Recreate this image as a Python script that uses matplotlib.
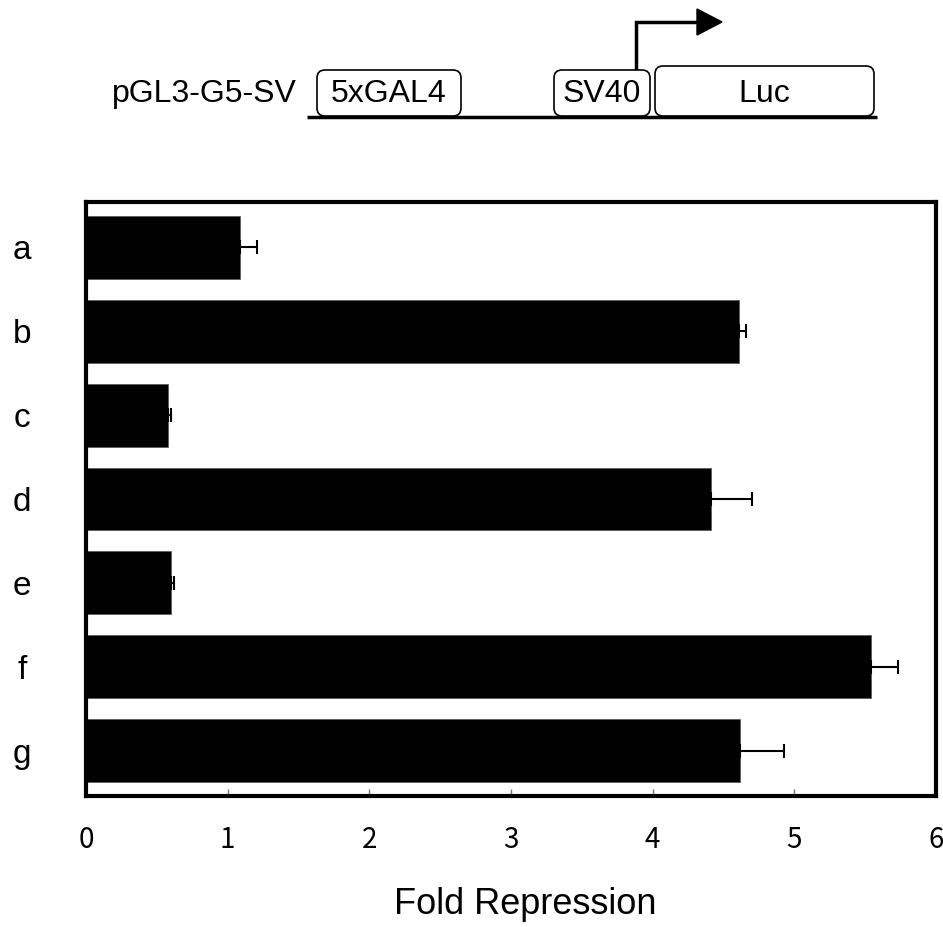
import numpy as np
import matplotlib.pyplot as plt
from matplotlib.patches import FancyBboxPatch, FancyArrow

labels = ['a', 'b', 'c', 'd', 'e', 'f', 'g']
fold = [1.09, 4.61, 0.58, 4.41, 0.60, 5.54, 4.62]
err = [0.12, 0.05, 0.02, 0.29, 0.02, 0.19, 0.31]

plt.rcParams['font.family'] = ['Liberation Sans', 'DejaVu Sans']

fig = plt.figure(figsize=(9.43, 9.27), dpi=100)

# construct diagram in pixel coords
dg = fig.add_axes([0, 0, 1, 1])
dg.set_xlim(0, 943)
dg.set_ylim(927, 0)
dg.axis('off')

dg.plot([307, 877], [117, 117], color='black', lw=2.5, solid_capstyle='butt')
boxes = [(317, 461, 70, '5xGAL4'), (554, 650, 70, 'SV40'), (655, 874, 66, 'Luc')]
for x0, x1, y0, txt in boxes:
    p = FancyBboxPatch((x0, y0), x1 - x0, 116 - y0, boxstyle='round,pad=0,rounding_size=8',
                       fc='white', ec='black', lw=1.2, zorder=3)
    dg.add_patch(p)
    dg.text((x0 + x1) / 2, 94, txt, ha='center', va='center', fontsize=23, zorder=4)
dg.text(112, 94, 'pGL3-G5-SV', ha='left', va='center', fontsize=23)
dg.plot([636, 636, 697], [69, 22, 22], color='black', lw=2.5, solid_joinstyle='miter')
dg.add_patch(FancyArrow(696, 22, 1, 0, width=0, head_width=26, head_length=25,
                        length_includes_head=False, color='black'))

ax = fig.add_axes([86 / 943, 131 / 927, 850 / 943, 594 / 927])
y = np.arange(len(labels))
ax.barh(y, fold, height=0.75, color='black', edgecolor='#555555', lw=0.5,
        xerr=[np.zeros(len(err)), err],
        error_kw=dict(ecolor='black', elinewidth=1.5, capsize=5, capthick=1.5))
ax.set_xlim(0, 6)
ax.set_ylim(6.54, -0.54)
ax.set_yticks(y)
ax.set_yticklabels(labels, fontsize=24)
ax.tick_params(axis='y', length=0, pad=46)
for t in ax.get_yticklabels():
    t.set_horizontalalignment('center')
ax.set_xticks(range(7))
ax.tick_params(axis='x', direction='in', length=5, width=1, color='#777777',
               labelsize=20, pad=21)
for t in ax.get_xticklabels():
    t.set_family(['Noto Sans CJK JP', 'DejaVu Sans'])
for s in ax.spines.values():
    s.set_linewidth(3)
fig.text(525 / 943, 1 - 905 / 927, 'Fold Repression', ha='center', va='center', fontsize=26)

fig.savefig('out.png', dpi=100)
